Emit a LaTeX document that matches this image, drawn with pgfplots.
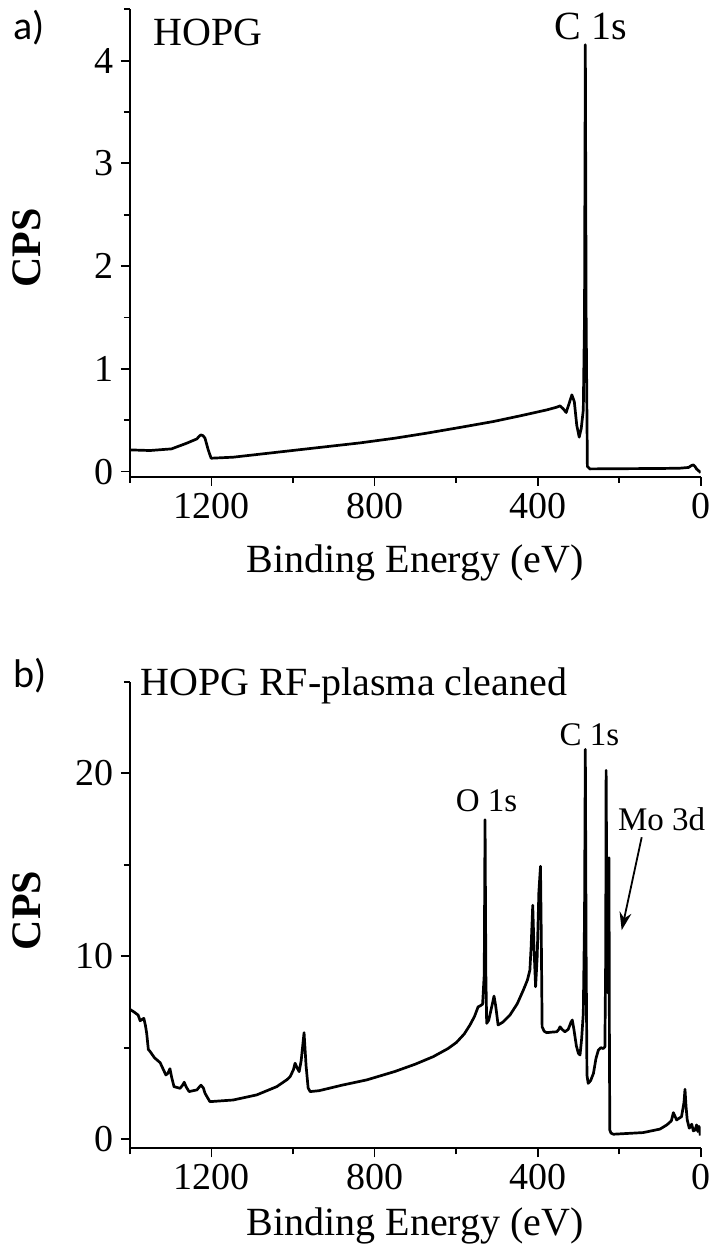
\documentclass[border=0pt]{standalone}
\usepackage{fontspec}
\setmainfont{Liberation Serif}
\newfontfamily\panelfont{Carlito}
\usepackage{pgfplots}
\pgfplotsset{compat=1.18}
\usetikzlibrary{arrows.meta}
\begin{document}
\begin{tikzpicture}
\path[use as bounding box] (0,0) rectangle (358pt,-624.5pt);
\pgfplotsset{xps/.style={
  scale only axis, width=285.35pt, xmin=0, xmax=1400, x dir=reverse,
  axis x line*=bottom, axis y line*=left,
  axis line style={line width=0.9pt, black},
  every tick/.style={line width=0.9pt, black},
  tick align=outside, major tick length=4.5pt, minor tick length=3pt,
  xtick={0,400,800,1200}, minor xtick={200,600,1000,1400},
  /pgf/number format/assume math mode=true,
  /pgf/number format/set thousands separator={},
  tick label style={font=\fontsize{19}{19}\selectfont},
  label style={font=\fontsize{20}{20}\selectfont},
  xlabel={Binding Energy (eV)},
  ylabel={\bfseries CPS},
  ylabel style={at={(axis description cs:-0.18,0.49)}, anchor=center, font=\fontsize{21}{21}\selectfont},
}}
% Panel a
\begin{axis}[xps, at={(65pt,-238.35pt)}, anchor=south west, height=233.7pt,
  ymin=-0.05, ymax=4.5, ytick={0,1,2,3,4}, minor ytick={0.5,1.5,2.5,3.5,4.5},
  xlabel style={at={(axis description cs:0.5,-0.206)}, anchor=base}]
\addplot[black, line width=1.35pt, line join=round] coordinates {
(1400,0.211)(1351,0.205)(1298,0.221)(1261,0.276)(1236,0.318)(1230,0.345)(1226,0.357)
(1221,0.35)(1216,0.325)(1208,0.21)(1201,0.130)(1147,0.14)(1024,0.195)(901,0.25)
(836,0.279)(750,0.325)(672,0.374)(590,0.43)(509,0.487)(440,0.545)(378,0.60)(353,0.627)
(345,0.64)(337,0.61)(330,0.575)(323,0.66)(316,0.747)(310,0.68)(304,0.45)(298,0.335)
(293,0.42)(288,0.60)(285,1.5)(283,4.155)(281,1.5)(278,0.05)(272,0.026)(200,0.028)
(100,0.03)(51,0.033)(30,0.04)(22,0.06)(18,0.065)(14,0.05)(10,0.025)(0,-0.01)
};
\end{axis}
% Panel b
\begin{axis}[xps, at={(65pt,-574.15pt)}, anchor=south west, height=233.3pt,
  ymin=-0.5, ymax=25, ytick={0,10,20}, minor ytick={5,15,25},
  xlabel style={at={(axis description cs:0.5,-0.186)}, anchor=base},
  ylabel style={at={(axis description cs:-0.18,0.51)}}]
\addplot[black, line width=1.35pt, line join=round] coordinates {
(1400,7.09)(1390,6.95)(1380,6.78)(1375,6.47)(1370,6.55)(1366,6.6)(1362,6.2)(1359,5.78)
(1355,4.9)(1351,4.8)(1340,4.45)(1326,4.18)(1312,3.51)(1307,3.6)(1302,3.85)(1298,3.4)
(1292,2.87)(1277,2.78)(1271,2.95)(1267,3.11)(1262,2.85)(1255,2.60)(1245,2.65)(1236,2.69)
(1230,2.85)(1226,2.95)(1220,2.8)(1216,2.51)(1204,2.05)(1147,2.14)(1089,2.42)(1040,2.87)
(1015,3.25)(1007,3.42)(999,3.8)(995,4.15)(990,3.9)(985,3.69)(980,4.3)(973,5.82)(968,4.0)
(963,2.8)(958,2.60)(936,2.65)(880,2.95)(819,3.24)(750,3.7)(700,4.1)(656,4.51)(620,4.95)
(599,5.29)(580,5.75)(566,6.24)(555,6.7)(546,7.23)(540,7.3)(535,7.38)(531,9.0)(529,17.46)
(527,9.0)(525,6.33)(520,6.5)(510,7.5)(507,7.82)(503,7.3)(497,6.24)(485,6.4)(468,6.78)
(450,7.4)(435,8.15)(425,8.7)(419,9.24)(416,10.5)(412,12.78)(409,10.5)(405,8.33)(401,10)
(397,13.5)(393,14.91)(391,11)(389,6.14)(384,5.9)(378,5.82)(365,5.85)(353,5.87)(348,6.0)
(345,6.14)(340,6.0)(333,5.87)(325,6.0)(318,6.4)(315,6.51)(311,6.0)(305,5.1)(300,4.69)
(296,4.60)(292,5.5)(288,6.87)(285,12)(283,21.3)(281,10)(279,3.5)(276,3.05)(270,3.2)
(263,3.60)(257,4.4)(251,4.87)(245,5.0)(239,4.95)(235,5.05)(233,10)(232,20.15)(230,12)
(228,8)(226,12)(225,15.38)(224,6)(223,0.5)(220,0.33)(214,0.27)(141,0.36)(100,0.55)
(83,0.78)(72,1.0)(67,1.45)(62,1.2)(59,1.05)(47,1.23)(41,2.0)(38.5,2.73)(36,1.8)(33,1.05)
(28,0.6)(25,0.7)(22,0.82)(18,0.45)(14,0.5)(10,0.78)(7,0.42)(4,0.7)(1,0.2)
};
\draw[-{Stealth[length=9pt,width=6pt]}, line width=0.9pt] (axis cs:144.7,16.5) -- (axis cs:193.8,11.42);
\end{axis}
% annotations
\node[anchor=base west, inner sep=0pt, font=\panelfont\fontsize{20}{20}\selectfont] at (6.5pt,-19.5pt) {a)};
\node[anchor=base west, inner sep=0pt, font=\fontsize{20}{20}\selectfont] at (76.5pt,-22.5pt) {HOPG};
\node[anchor=base, inner sep=0pt, font=\fontsize{20}{20}\selectfont] at (295.5pt,-19.65pt) {C 1s};
\node[anchor=base west, inner sep=0pt, font=\panelfont\fontsize{20}{20}\selectfont] at (6.5pt,-343.5pt) {b)};
\node[anchor=base west, inner sep=0pt, font=\fontsize{20}{20}\selectfont] at (70pt,-347.5pt) {HOPG RF-plasma cleaned};
\node[anchor=base, inner sep=0pt, font=\fontsize{16.5}{16.5}\selectfont] at (243.25pt,-405.85pt) {O 1s};
\node[anchor=base, inner sep=0pt, font=\fontsize{16.5}{16.5}\selectfont] at (294.75pt,-372.5pt) {C 1s};
\node[anchor=base, inner sep=0pt, font=\fontsize{16.5}{16.5}\selectfont] at (330.8pt,-415pt) {Mo 3d};
\end{tikzpicture}
\end{document}
